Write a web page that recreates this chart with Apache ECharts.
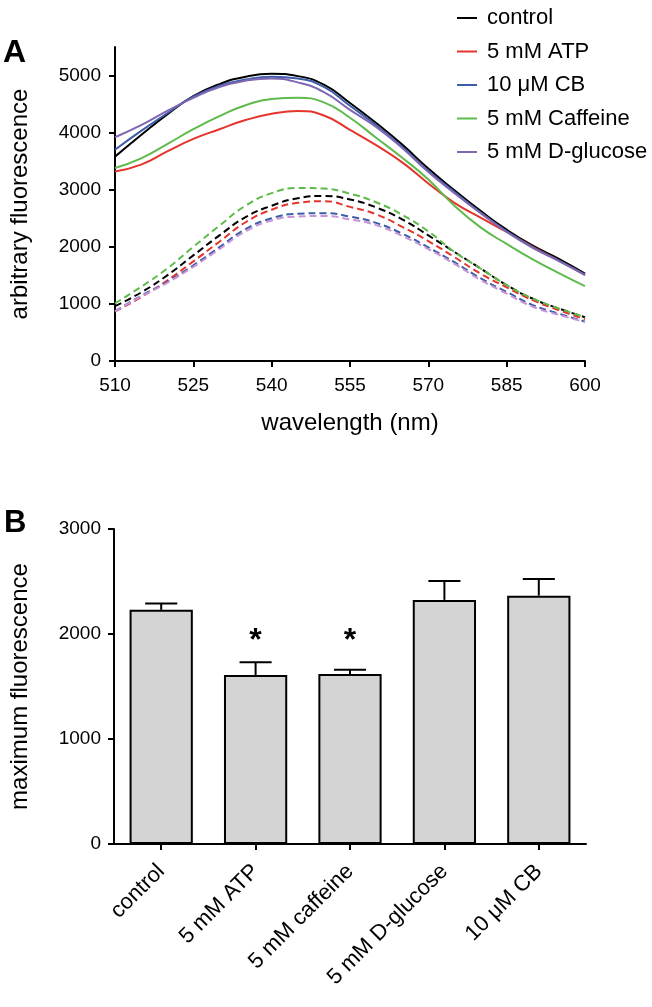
<!DOCTYPE html>
<html>
<head>
<meta charset="utf-8">
<script src="https://cdn.jsdelivr.net/npm/echarts@6/dist/echarts.min.js"></script>
<style>
html,body{margin:0;padding:0;background:#fff;}
#chart{width:652px;height:1007px;}
</style>
</head>
<body>
<div id="chart"></div>
<script>
// ---------- Panel A data (wavelength scans) ----------
const wavelengths = [510,515,520,525,530,535,540,545,550,555,560,565,570,575,580,585,590,595,600];
const controlSolid  = [3580,3960,4320,4640,4850,4980,5030,4990,4840,4520,4170,3790,3370,2990,2630,2300,2020,1790,1530];
const atpSolid      = [3320,3440,3670,3890,4060,4220,4330,4380,4300,4050,3780,3480,3110,2770,2510,2260,2000,1760,1510];
const cbSolid       = [3700,4030,4340,4630,4820,4930,4980,4950,4800,4470,4130,3750,3330,2960,2600,2270,1990,1760,1510];
const caffeineSolid = [3380,3550,3800,4060,4290,4480,4590,4610,4530,4260,3910,3560,3180,2720,2340,2050,1780,1540,1310];
const glucoseSolid  = [3920,4130,4380,4610,4800,4910,4950,4880,4710,4400,4100,3730,3310,2940,2590,2260,1980,1750,1510];

const controlDashed  = [960,1200,1500,1850,2200,2520,2720,2850,2890,2830,2690,2480,2200,1910,1620,1330,1090,920,765];
const atpDashed      = [865,1120,1410,1745,2090,2430,2650,2770,2800,2700,2570,2350,2100,1820,1530,1290,1065,890,730];
const cbDashed       = [875,1140,1385,1675,1995,2310,2500,2580,2590,2530,2420,2230,1990,1730,1450,1210,980,830,690];
const caffeineDashed = [1010,1300,1620,2000,2370,2720,2940,3030,3020,2930,2780,2560,2270,1910,1620,1330,1095,920,770];
const glucoseDashed  = [870,1130,1370,1650,1960,2270,2460,2530,2540,2480,2380,2190,1960,1700,1420,1180,950,810,680];

const legendNames = ['control','5 mM ATP','10 \u03bcM CB','5 mM Caffeine','5 mM D-glucose'];
const yTicksA = [0,1000,2000,3000,4000,5000];

// ---------- Panel B data (maximum fluorescence) ----------
const barCategories = ['control','5 mM ATP','5 mM caffeine','5 mM D-glucose','10 \u03bcM CB'];
const barMeans  = [2230,1610,1620,2325,2365];
const barErrors = [60,120,40,180,160];
const barSignificant = [false,true,true,false,false];
const yTicksB = [0,1000,2000,3000];

// ---------- styling ----------
const FONT = 'Liberation Sans, Arial, Helvetica, sans-serif';
const colors = {
  control:'#000000', atp:'#e4342b', cb:'#3d5daa', caffeine:'#5fba4c', glucose:'#7f67b1', glucoseDash:'#c994d6'
};
const ASTERISK_LEVEL = 1930;

function pts(ys){ return wavelengths.map((w,i)=>[w, ys[i]]); }
function lineSeries(name, ys, color, dashed){
  return {
    type:'line', name:name, data:pts(ys), xAxisIndex:0, yAxisIndex:0,
    showSymbol:false, symbol:'none', smooth:0.5, silent:true,
    itemStyle:{color:color},
    lineStyle:{color:color, width:2, type:dashed?[7,4]:'solid'},
    z: dashed?2:3
  };
}
const plainNumber = function(v){ return String(v); };

const axisLineStyle = {show:true, lineStyle:{color:'#000', width:2}};
const tickStyle = {show:true, length:6, lineStyle:{color:'#000', width:2}};

const option = {
  animation:false,
  backgroundColor:'#fff',
  textStyle:{fontFamily:FONT},
  legend:{
    data:legendNames, orient:'vertical', left:452, top:2,
    icon:'rect', itemWidth:20, itemHeight:2, itemGap:11.5,
    selectedMode:false,
    textStyle:{fontSize:22, color:'#000', fontFamily:FONT, padding:[0,0,0,5]}
  },
  grid:[
    {left:114, right:67, top:47, height:314},
    {left:113, right:66, top:529, height:315}
  ],
  xAxis:[
    {
      type:'value', gridIndex:0, min:510, max:600, interval:15,
      name:'wavelength (nm)', nameLocation:'middle', nameGap:50,
      nameTextStyle:{fontSize:24, color:'#000', fontFamily:FONT},
      axisLine:axisLineStyle, axisTick:tickStyle,
      axisLabel:{fontSize:19, color:'#000', margin:15, fontFamily:FONT, formatter:plainNumber},
      splitLine:{show:false}
    },
    {
      type:'category', gridIndex:1, data:barCategories, boundaryGap:true,
      axisLine:axisLineStyle, axisTick:Object.assign({alignWithLabel:true}, tickStyle),
      axisLabel:{fontSize:22, color:'#000', rotate:45, margin:24, interval:0, fontFamily:FONT},
      splitLine:{show:false}
    }
  ],
  yAxis:[
    {
      type:'value', gridIndex:0, min:0, max:5500, interval:1000,
      name:'arbitrary fluorescence', nameLocation:'middle', nameGap:83,
      nameTextStyle:{fontSize:24, color:'#000', fontFamily:FONT},
      axisLine:axisLineStyle,
      axisTick:Object.assign({customValues:yTicksA}, tickStyle),
      axisLabel:{fontSize:19, color:'#000', margin:14, customValues:yTicksA, fontFamily:FONT, formatter:plainNumber},
      splitLine:{show:false}
    },
    {
      type:'value', gridIndex:1, min:0, max:3000, interval:1000,
      name:'maximum fluorescence', nameLocation:'middle', nameGap:82,
      nameTextStyle:{fontSize:24, color:'#000', fontFamily:FONT},
      axisLine:axisLineStyle,
      axisTick:Object.assign({customValues:yTicksB}, tickStyle),
      axisLabel:{fontSize:19, color:'#000', margin:13, customValues:yTicksB, fontFamily:FONT, formatter:plainNumber},
      splitLine:{show:false}
    }
  ],
  graphic:[
    {type:'text', left:3, top:37, style:{text:'A', fontSize:32, fontWeight:'bold', fill:'#000', fontFamily:FONT}},
    {type:'text', left:4, top:508, style:{text:'B', fontSize:31, fontWeight:'bold', fill:'#000', fontFamily:FONT}}
  ],
  series:[
    lineSeries(legendNames[0], controlSolid, colors.control, false),
    lineSeries(legendNames[1], atpSolid, colors.atp, false),
    lineSeries(legendNames[2], cbSolid, colors.cb, false),
    lineSeries(legendNames[3], caffeineSolid, colors.caffeine, false),
    lineSeries(legendNames[4], glucoseSolid, colors.glucose, false),
    lineSeries(legendNames[0], controlDashed, colors.control, true),
    lineSeries(legendNames[1], atpDashed, colors.atp, true),
    lineSeries(legendNames[2], cbDashed, colors.cb, true),
    lineSeries(legendNames[3], caffeineDashed, colors.caffeine, true),
    lineSeries(legendNames[4], glucoseDashed, colors.glucoseDash, true),
    {
      type:'bar', xAxisIndex:1, yAxisIndex:1, data:barMeans, barCategoryGap:'33%',
      itemStyle:{color:'#d4d4d4', borderColor:'#000', borderWidth:2}, silent:true, z:2
    },
    {
      type:'custom', xAxisIndex:1, yAxisIndex:1, silent:true, z:5,
      data: barMeans.map((m,i)=>[i, m, barErrors[i], barSignificant[i]?1:0]),
      renderItem:function(params, api){
        const i = api.value(0), m = api.value(1), e = api.value(2), s = api.value(3);
        const base = api.coord([i, m]);
        const top = api.coord([i, m+e]);
        const half = api.size([1,0])[0]*0.17;
        const children = [
          {type:'line', shape:{x1:base[0], y1:base[1], x2:top[0], y2:top[1]}, style:{stroke:'#000', lineWidth:2}},
          {type:'line', shape:{x1:top[0]-half, y1:top[1], x2:top[0]+half, y2:top[1]}, style:{stroke:'#000', lineWidth:2}}
        ];
        if (s) {
          const p = api.coord([i, ASTERISK_LEVEL]);
          children.push({type:'text', x:p[0], y:p[1], style:{text:'*', fontSize:32, fontWeight:'bold', fontFamily:FONT, fill:'#000', align:'center', verticalAlign:'middle'}});
        }
        return {type:'group', children:children};
      }
    }
  ]
};

const chart = echarts.init(document.getElementById('chart'), null, {renderer:'canvas'});
chart.setOption(option);
</script>
</body>
</html>
